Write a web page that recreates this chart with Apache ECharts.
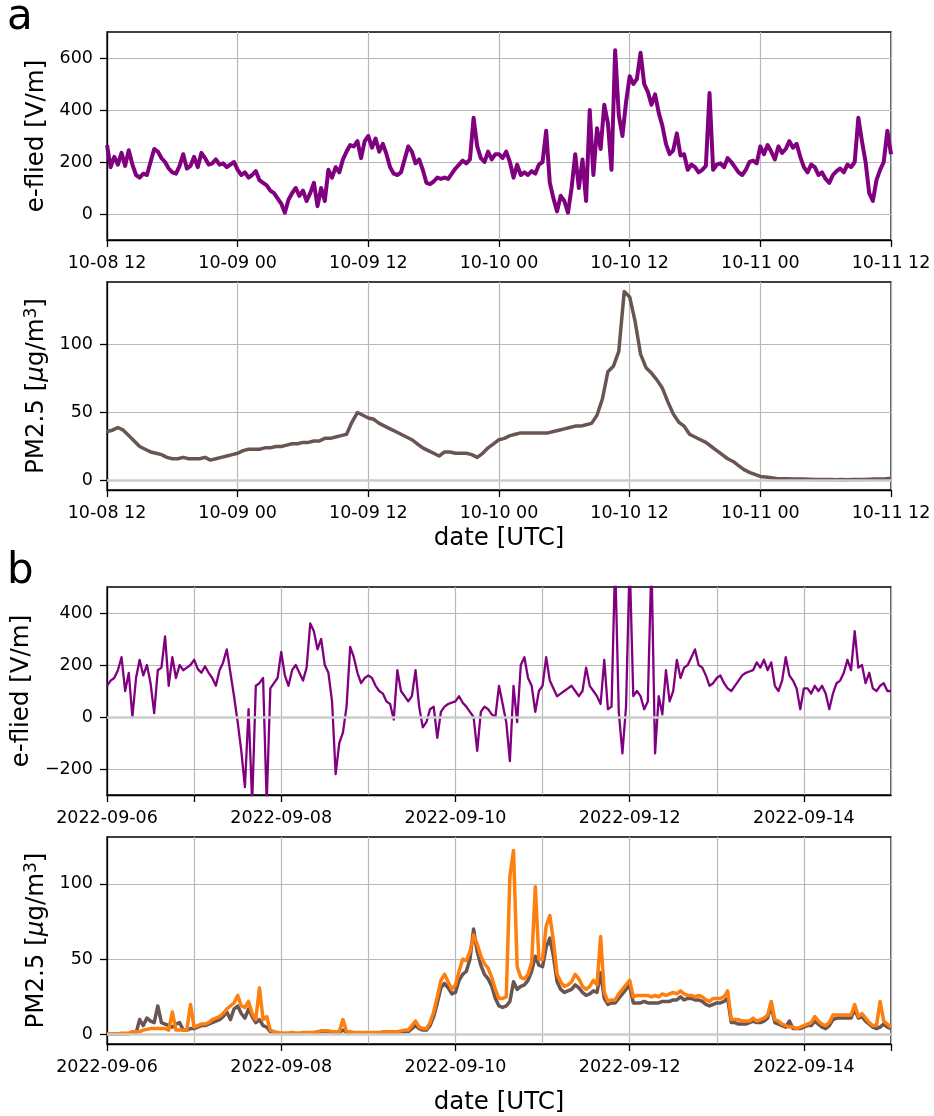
<!DOCTYPE html>
<html>
<head>
<meta charset="utf-8">
<script src="https://cdn.jsdelivr.net/npm/echarts@6/dist/echarts.min.js"></script>
<style>
  html, body { margin: 0; padding: 0; background: #fff; }
  #chart { width: 934px; height: 1116px; }
</style>
</head>
<body>
<div id="chart"></div>
<script>
// --- data ---
// panel a: e-field every 20 min from 10-08 12:00 UTC
const eFieldA = [
  265,180,220,190,235,185,245,190,150,140,
  155,150,200,250,240,215,200,175,160,155,
  185,230,175,185,220,180,235,215,190,195,
  210,190,195,180,190,200,170,150,160,140,
  150,165,130,120,110,90,80,60,40,5,
  55,80,100,70,90,50,80,120,30,100,
  50,170,140,180,160,210,240,265,260,280,
  215,280,300,255,290,240,270,230,180,155,
  150,160,210,260,240,195,210,170,120,115,
  125,140,135,140,135,155,175,190,205,195,
  210,370,260,215,200,240,210,230,
  230,215,240,200,140,190,150,160,150,165,
  155,190,200,320,120,60,10,70,50,5,
  100,230,100,210,50,400,150,330,250,420,
  350,170,630,380,300,430,530,500,520,620,
  500,470,420,460,390,340,270,230,245,310,
  225,230,170,190,180,160,170,185,465,170,
  190,195,180,215,200,180,160,150,170,200,
  205,195,260,230,265,240,210,260,235,250,
  280,255,270,220,180,160,190,180,150,160,
  135,120,150,165,175,160,190,180,200,370,
  280,200,80,50,130,170,200,320,230
]
// panel a: PM2.5 every 30 min
const pmA = [
  36,37,39,37,33,29,25,23,21,20,
  19,17,16,16,17,16,16,16,17,15,
  16,17,18,19,20,22,23,23,23,24,
  24,25,25,26,27,27,28,28,29,29,
  31,31,32,33,34,43,50,48,46,45,
  42,40,38,36,34,32,30,27,24,22,
  20,18,21,21,20,20,20,19,17,20,
  24,27,30,31,33,34,35,35,35,35,
  35,35,36,37,38,39,40,40,41,42,
  48,60,80,84,95,139,135,117,93,83,
  79,74,68,58,49,43,40,34,32,30,
  28,25,22,19,16,14,11,8,6,4.5,
  3,2.5,2,1.5,1.3,1.2,1.1,1,1,0.9,
  0.8,0.8,0.7,0.7,0.6,0.7,0.6,0.7,0.8,0.8,
  0.9,1,1.1,1.2,1.5
]
// panel b: hourly from 2022-09-06 00:00 UTC
const eFieldB = [
  120,140,150,180,230,100,170,0,150,220,
  160,200,130,15,180,190,310,120,230,150,
  200,180,190,200,220,185,170,195,170,150,
  120,180,210,260,170,80,-20,-130,-270,30,
  -330,120,130,150,-330,110,130,150,250,160,
  120,180,200,170,140,190,360,330,260,300,
  200,170,60,-220,-100,-60,40,270,230,170,
  130,150,160,150,120,100,90,60,50,-10,
  180,100,80,60,80,180,40,-40,-20,30,
  40,-80,20,40,50,55,60,80,55,40,
  20,0,-130,20,40,30,10,0,120,50,
  -20,-170,120,-20,200,230,150,120,20,100,
  120,230,140,110,80,90,100,110,120,100,
  80,100,190,120,100,80,50,220,30,40,
  600,20,-140,40,600,80,100,80,30,60,
  600,-140,80,10,180,60,100,220,150,190,
  200,230,260,200,190,160,120,130,150,160,
  130,110,100,120,140,160,170,175,180,210,
  190,220,180,210,120,100,140,230,160,140,
  110,30,110,110,90,120,100,120,90,30,
  90,130,140,170,220,180,330,190,200,130,
  170,110,100,120,130,100,100
]
const pmB1 = [
  0.3,0.3,0.3,0.3,0.5,0.5,0.5,1,1,10,
  6,11,9,8,19,8,7,6,5,7,
  8,3,3,4,4,5,6,6,7,8,
  9,10,12,15,10,17,19,14,11,17,
  12,8,10,6,5,2,1.5,1,0.8,0.8,
  0.8,1,0.8,0.8,1,1,1,1,1.5,2,
  2,2,1.5,1.5,1.5,3,1.5,1.5,1,1,
  1,1,1,1,1,1,1.5,1.5,1.5,1.5,
  1.5,2,2,2,4,6,4,3,3,6,
  12,21,31,34,31,27,28,36,40,42,
  50,70,55,46,40,37,32,24,19,18,
  19,22,35,30,32,33,36,42,52,46,
  45,58,64,52,35,30,28,29,30,33,
  31,28,26,27,29,28,41,24,20,21,
  21,24,27,30,33,21,21,21,22,21,
  21,21,21,22,22,22,23,23,25,23,
  24,24,23,23,22,20,19,20,21,21,
  22,24,8,8,7,7,7,8,9,8,
  8,9,11,19,8,7,6,5,9,4,
  4,4,5,6,6,9,7,5,4,6,
  10,11,11,11,11,11,17,11,12,9,
  7,5,4,5,7,5,4
]
const pmB2 = [
  0.5,0.5,0.5,0.5,1,1,1,2,2,2,
  3,3.5,4,4,4,4,4,3,15,3,
  3,3,3,20,5,6,7,7,8,10,
  11,12,14,17,19,21,26,19,18,22,
  14,10,31,10,12,3,2,1.5,1,1,
  1,1.5,1,1,1.5,1.5,1.5,1.5,2,2.5,
  2.5,2.5,2,2,2,10,2,2,1.5,1.5,
  1.5,1.5,1.5,1.5,1.5,1.5,2,2,2,2,
  2,2.5,3,3,6,9,5,4,4,8,
  15,25,36,40,35,30,33,42,50,49,
  55,66,60,52,47,44,38,30,24,24,
  25,105,122,45,38,37,40,48,98,50,
  50,72,79,62,40,35,32,33,35,40,
  37,32,30,32,36,33,65,28,22,23,
  23,27,30,33,36,25,26,26,26,26,
  25,26,25,27,26,27,28,27,29,27,
  26,26,25,26,25,23,22,24,24,24,
  25,29,10,10,10,9,9,9,11,9,
  10,11,13,22,10,9,7,6,5,5,
  4,5,6,7,8,12,9,7,6,8,
  13,13,13,13,13,13,20,12,14,11,
  8,6,6,22,9,7,5
]

const aTickLabels = ['10-08 12', '10-09 00', '10-09 12', '10-10 00', '10-10 12', '10-11 00', '10-11 12']
const bTickLabels = ['2022-09-06', '2022-09-08', '2022-09-10', '2022-09-12', '2022-09-14']
const eTicksA = [0, 200, 400, 600]
const pmTicksA = [0, 50, 100]
const eTicksB = [-200, 0, 200, 400]
const pmTicksB = [0, 50, 100]

// --- styles ---
const FONT = 'DejaVu Sans'
const PURPLE = '#800080'
const BROWN = '#695552'
const ORANGE = '#ff7f0e'
const axisLine = { show: true, onZero: false, lineStyle: { color: '#000', width: 1.3 } }
const gridLine = { show: true, lineStyle: { color: '#b8b8b8', width: 1.2 } }
const tickLabel = { color: '#000', fontSize: 17.5, fontFamily: FONT, margin: 14 }
const nameStyle = {
  color: '#000', fontSize: 24.5, fontFamily: FONT,
  rich: {
    n: { fontSize: 24.5, fontFamily: FONT, color: '#000' },
    mu: { fontSize: 24.5, fontFamily: FONT, fontStyle: 'italic', color: '#000' },
    sup: { fontSize: 17, fontFamily: FONT, color: '#000', verticalAlign: 'top', padding: [0, 0, 10, 0] }
  }
}
const pmName = '{n|PM2.5 [}{mu|μ}{n|g/m}{sup|3}{n|]}'
const minus = v => String(v).replace('-', '\u2212')

const xA = (gridIndex, name) => ({
  type: 'value', gridIndex, min: 0, max: 72, interval: 12, position: 'bottom',
  axisLine, axisTick: { show: true, length: 7, lineStyle: { color: '#000', width: 1.3 } },
  axisLabel: { ...tickLabel, formatter: v => aTickLabels[Math.round(v / 12)] || '' },
  splitLine: gridLine,
  name, nameLocation: 'middle', nameGap: 36, nameTextStyle: nameStyle
})
// day grid lines for panel b
const xBGrid = gridIndex => ({
  type: 'value', gridIndex, min: 0, max: 216, interval: 24, position: 'bottom',
  axisLine: { show: false }, axisTick: { show: false }, axisLabel: { show: false },
  splitLine: gridLine
})
const xBTicks = (gridIndex, ticks, name) => ({
  type: 'value', gridIndex, min: 0, max: 216, interval: 24, position: 'bottom',
  axisLine,
  axisTick: { show: true, length: 7, customValues: ticks, lineStyle: { color: '#000', width: 1.3 } },
  axisLabel: { ...tickLabel, customValues: [0, 48, 96, 144, 192], formatter: v => bTickLabels[Math.round(v / 48)] || '' },
  splitLine: { show: false },
  name, nameLocation: 'middle', nameGap: 46, nameTextStyle: nameStyle
})
const yAxis = (gridIndex, min, max, ticks, name, nameGap) => ({
  type: 'value', gridIndex, min, max, position: 'left',
  axisLine,
  axisTick: { show: true, length: 7, customValues: ticks, lineStyle: { color: '#000', width: 1.3 } },
  axisLabel: { ...tickLabel, customValues: ticks, formatter: minus },
  splitLine: gridLine,
  name, nameLocation: 'middle', nameGap, nameTextStyle: nameStyle
})
const zeroLine = (xAxisIndex, yAxisIndex) => ({
  type: 'line', xAxisIndex, yAxisIndex, data: [], z: 1, silent: true,
  markLine: { silent: true, symbol: 'none', label: { show: false }, animation: false,
    lineStyle: { color: '#cccccc', width: 2.6, type: 'solid' }, data: [{ yAxis: 0 }] }
})
const lineSeries = (xAxisIndex, yAxisIndex, data, color, width) => ({
  type: 'line', xAxisIndex, yAxisIndex, data, showSymbol: false, symbol: 'none', z: 3,
  lineStyle: { color, width, join: 'round' }
})

const chart = echarts.init(document.getElementById('chart'), null, { renderer: 'canvas' })
chart.setOption({
  animation: false,
  backgroundColor: '#fff',
  textStyle: { fontFamily: FONT },
  grid: [
    { left: 107, top: 32, width: 784, height: 208 },
    { left: 107, top: 282, width: 784, height: 208 },
    { left: 107, top: 587, width: 784, height: 208 },
    { left: 107, top: 837, width: 784, height: 208 }
  ].map(g => ({ ...g, show: true, borderColor: '#000', borderWidth: 1.3, containLabel: false })),
  xAxis: [
    xA(0, ''),
    xA(1, 'date [UTC]'),
    xBGrid(2),
    xBTicks(2, [0, 24, 48, 96, 144, 192], ''),
    xBGrid(3),
    xBTicks(3, [0, 48, 96, 144, 192, 216], 'date [UTC]')
  ],
  yAxis: [
    yAxis(0, -100, 700, eTicksA, 'e-flied [V/m]', 50),
    yAxis(1, -7, 146, pmTicksA, pmName, 56),
    yAxis(2, -300, 500, eTicksB, 'e-flied [V/m]', 67),
    yAxis(3, -6.2, 131, pmTicksB, pmName, 56)
  ],
  graphic: [
    { type: 'text', x: 7, y: 18, style: { text: 'a', fontSize: 42, fontFamily: FONT, fill: '#000', align: 'left', verticalAlign: 'middle' } },
    { type: 'text', x: 7, y: 572, style: { text: 'b', fontSize: 42, fontFamily: FONT, fill: '#000', align: 'left', verticalAlign: 'middle' } }
  ],
  series: [
    lineSeries(0, 0, eFieldA.map((v, i) => [i / 3, v]), PURPLE, 4),
    zeroLine(1, 1),
    lineSeries(1, 1, pmA.map((v, i) => [i / 2, v]), BROWN, 3.5),
    zeroLine(2, 2),
    lineSeries(2, 2, eFieldB.map((v, i) => [i, v]), PURPLE, 2.3),
    zeroLine(4, 3),
    lineSeries(4, 3, pmB1.map((v, i) => [i, v]), BROWN, 3.5),
    lineSeries(4, 3, pmB2.map((v, i) => [i, v]), ORANGE, 3.5)
  ]
})
window.addEventListener('resize', () => chart.resize())
</script>
</body>
</html>
